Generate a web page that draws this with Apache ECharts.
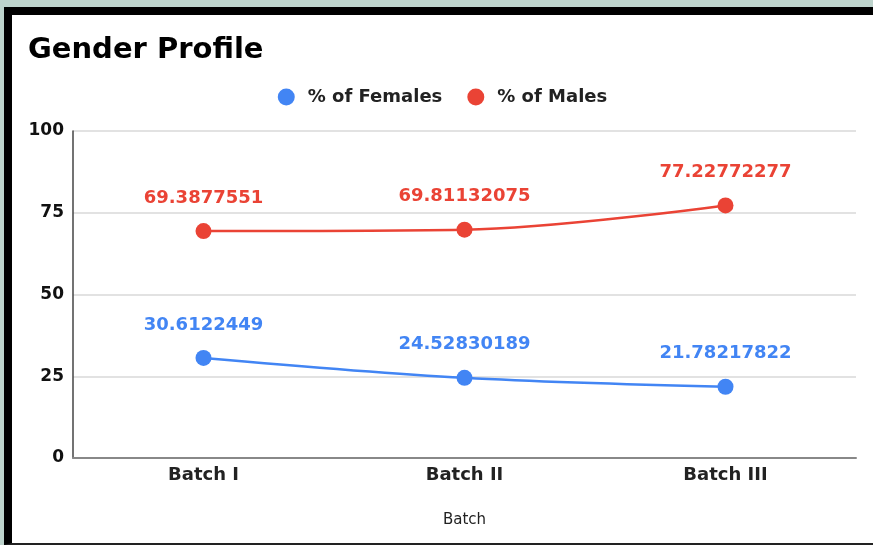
<!DOCTYPE html>
<html><head><meta charset="utf-8">
<script src="https://cdn.jsdelivr.net/npm/echarts@6/dist/echarts.min.js"></script>
<style>
html,body{margin:0;padding:0;width:873px;height:545px;overflow:hidden;background:#bdd3cc;}
#frame{position:absolute;left:4px;top:7px;width:861px;height:528px;border-left:8px solid #000;border-top:8px solid #000;border-bottom:2px solid #222;background:#fff;}
#chart{width:861px;height:528px;}
</style></head>
<body><div id="frame"><div id="chart"></div></div>
<script>
const categories = ['Batch I', 'Batch II', 'Batch III'];
const females = [30.6122449, 24.52830189, 21.78217822];
const males = [69.3877551, 69.81132075, 77.22772277];
const yTicks = [0, 25, 50, 75, 100];

const font = 'DejaVu Sans';
const chart = echarts.init(document.getElementById('chart'));
function lineSeries(name, data, color) {
  return {
    name, type: 'line', data, smooth: 0.35,
    symbol: 'circle', symbolSize: 16,
    lineStyle: { color, width: 2.5 },
    itemStyle: { color },
    label: { show: true, position: 'top', distance: 16, color, fontFamily: font, fontWeight: 'bold', fontSize: 18,
      formatter: p => String(p.value) }
  };
}
chart.setOption({
  animation: false,
  backgroundColor: '#fff',
  textStyle: { fontFamily: font },
  title: { text: 'Gender Profile', left: 11, top: 16,
    textStyle: { fontFamily: font, fontWeight: 'bold', fontSize: 29, color: '#000' } },
  legend: { top: 68, left: 'center', icon: 'circle', itemWidth: 17, itemHeight: 17, itemGap: 25,
    textStyle: { fontFamily: font, fontWeight: 'bold', fontSize: 18, color: '#222', padding: [0, 0, 0, 8] } },
  grid: { left: 61, right: 17, top: 116, bottom: 85, containLabel: false },
  xAxis: { type: 'category', data: categories, boundaryGap: true,
    name: 'Batch', nameLocation: 'middle', nameGap: 55,
    nameTextStyle: { fontFamily: font, fontSize: 15, color: '#222' },
    axisLine: { lineStyle: { color: '#888', width: 2 } },
    axisTick: { show: false },
    axisLabel: { margin: 8, fontFamily: font, fontWeight: 'bold', fontSize: 18, color: '#222' } },
  yAxis: { type: 'value', min: 0, max: 100, interval: 25,
    axisLine: { show: true, lineStyle: { color: '#444', width: 1.5 } },
    axisTick: { show: false },
    splitLine: { lineStyle: { color: '#e2e2e2', width: 2 } },
    axisLabel: { margin: 9, fontFamily: font, fontWeight: 'bold', fontSize: 17, color: '#111',
      formatter: v => yTicks.includes(v) ? String(v) : '' } },
  series: [lineSeries('% of Females', females, '#4285f4'), lineSeries('% of Males', males, '#ea4335')]
});
</script></body></html>
